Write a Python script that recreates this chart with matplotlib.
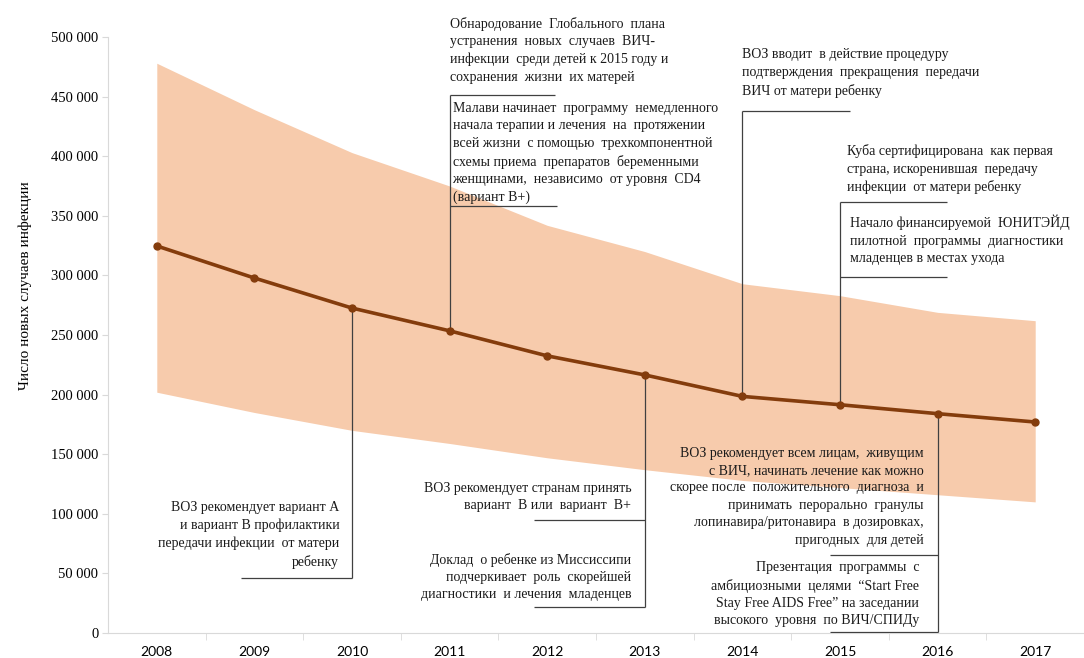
import matplotlib
matplotlib.use("Agg")
import matplotlib.pyplot as plt
from matplotlib.ticker import FuncFormatter

years = [2008, 2009, 2010, 2011, 2012, 2013, 2014, 2015, 2016, 2017]
infections = [324700, 297800, 272600, 253500, 232500, 216500, 198500, 191500, 184000, 177000]
upper = [478000, 439000, 403000, 375000, 342000, 320000, 293000, 283000, 269000, 262000]
lower = [202000, 185000, 170000, 159000, 147000, 137000, 128000, 122000, 116000, 110000]

serif = "Liberation Serif"
line_col = "#843C0C"
band_col = "#F7CBAC"
lead_col = "#404040"

fig = plt.figure(figsize=(10.84, 6.58), dpi=100)
ax = fig.add_axes([108 / 1084, 1 - 633 / 658, 1 - 108 / 1084, (633 - 37) / 658])

ax.fill_between(years, lower, upper, color=band_col, linewidth=0, zorder=1)
ax.plot(years, infections, color=line_col, lw=2.6, marker="o", ms=5, zorder=4)

ax.set_xlim(2007.5, 2007.5 + (1084 - 108) / 98.78)
ax.set_ylim(0, 500000)
ax.set_yticks(range(0, 500001, 50000))
ax.yaxis.set_major_formatter(FuncFormatter(lambda v, p: f"{int(v):,}".replace(",", " ")))
ax.set_xticks(years)
ax.set_xticks([y + 0.5 for y in years], minor=True)
ax.tick_params(axis="x", which="major", length=0, pad=9, labelsize=10)
ax.tick_params(axis="x", which="minor", length=5, color="#D9D9D9", direction="out")
ax.tick_params(axis="y", length=4, color="#D9D9D9", labelsize=10.5, pad=3)
for lab in ax.get_xticklabels():
    lab.set_family("Lato")
for lab in ax.get_yticklabels():
    lab.set_family(serif)
for s in ["top", "right"]:
    ax.spines[s].set_visible(False)
for s in ["left", "bottom"]:
    ax.spines[s].set_color("#D9D9D9")
fig.text(25 / 1084, 1 - 286 / 658, "Число новых случаев инфекции", rotation=90,
         ha="center", va="center", family=serif, fontsize=11)

def lead(x, y, **kw):
    ax.plot(x, y, color=lead_col, lw=0.9, zorder=3, solid_capstyle="butt", **kw)

# leader lines
lead([2010, 2010], [272600, 46000])
lead([2008.86, 2010], [46000, 46000])
lead([2011, 2011], [253500, 451000])
lead([2011, 2012.08], [451000, 451000])
lead([2011, 2012.1], [358000, 358000])
lead([2013, 2013], [216500, 21800])
lead([2011.86, 2013], [21800, 21800])
lead([2011.86, 2013], [94800, 94800])
lead([2014, 2014], [198500, 438000])
lead([2014, 2015.1], [438000, 438000])
lead([2015, 2015], [191500, 361600])
lead([2015, 2016.1], [361600, 361600])
lead([2015, 2016.1], [298700, 298700])
lead([2016, 2016], [184000, 800])
lead([2014.9, 2016], [65400, 65400])
lead([2014.9, 2016], [800, 800])

notes = [
    (2009.87, 82000, "right", "ВОЗ рекомендует вариант А\nи вариант В профилактики\nпередачи инфекции  от матери\nребенку"),
    (2011.0, 489000, "left", "Обнародование  Глобального  плана\nустранения  новых  случаев  ВИЧ-\nинфекции  среди детей к 2015 году и\nсохранения  жизни  их матерей"),
    (2011.03, 402700, "left", "Малави начинает  программу  немедленного\nначала терапии и лечения  на  протяжении\nвсей жизни  с помощью  трехкомпонентной\nсхемы приема  препаратов  беременными\nженщинами,  независимо  от уровня  CD4\n(вариант В+)"),
    (2012.86, 114000, "right", "ВОЗ рекомендует странам принять\nвариант  В или  вариант  В+"),
    (2012.86, 47000, "right", "Доклад  о ребенке из Миссиссипи\nподчеркивает  роль  скорейшей\nдиагностики  и лечения  младенцев"),
    (2014.0, 469800, "left", "ВОЗ вводит  в действие процедуру\nподтверждения  прекращения  передачи\nВИЧ от матери ребенку"),
    (2015.07, 389000, "left", "Куба сертифицирована  как первая\nстрана, искоренившая  передачу\nинфекции  от матери ребенку"),
    (2015.1, 329700, "left", "Начало финансируемой  ЮНИТЭЙД\nпилотной  программы  диагностики\nмладенцев в местах ухода"),
    (2015.86, 114500, "right", "ВОЗ рекомендует всем лицам,  живущим\nс ВИЧ, начинать лечение как можно\nскорее после  положительного  диагноза  и\nпринимать  перорально  гранулы\nлопинавира/ритонавира  в дозировках,\nпригодных  для детей"),
    (2015.81, 32700, "right", "Презентация  программы  с\nамбициозными  целями  “Start Free\nStay Free AIDS Free” на заседании\nвысокого  уровня  по ВИЧ/СПИДу"),
]
for x, y, ha, txt in notes:
    ax.text(x, y, txt, ha=ha, va="center", multialignment=ha, family=serif,
            fontsize=10, linespacing=1.44, color="#1a1a1a", zorder=5)

fig.savefig("out.png", dpi=100)
